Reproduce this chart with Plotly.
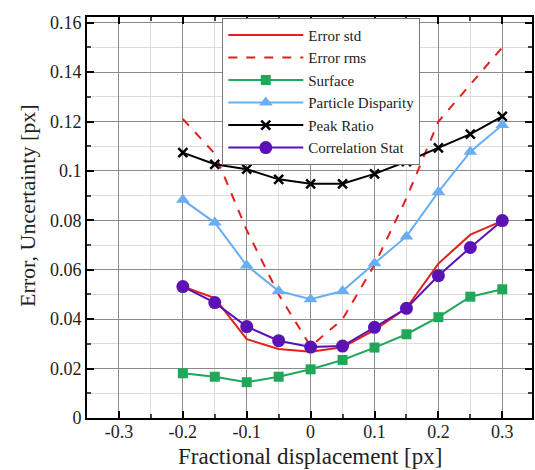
import plotly.graph_objects as go

x = [-0.2, -0.15, -0.1, -0.05, 0, 0.05, 0.1, 0.15, 0.2, 0.25, 0.3]
err_std = [0.0532, 0.0485, 0.0319, 0.0279, 0.0268, 0.0286, 0.0356, 0.0445, 0.0625, 0.0742, 0.0798]
err_rms = [0.121, 0.107, 0.076, 0.050, 0.029, 0.040, 0.062, 0.089, 0.120, 0.135, 0.150]
surface = [0.0181, 0.0167, 0.0145, 0.0167, 0.0197, 0.0235, 0.0285, 0.0339, 0.0408, 0.0491, 0.0521]
particle_disp = [0.0883, 0.0791, 0.0617, 0.0514, 0.0481, 0.0514, 0.0626, 0.0735, 0.0915, 0.1078, 0.1186]
peak_ratio = [0.1074, 0.1027, 0.1007, 0.0966, 0.0948, 0.0948, 0.0988, 0.1038, 0.1093, 0.1149, 0.1221]
corr_stat = [0.0532, 0.0467, 0.0370, 0.0313, 0.0287, 0.0291, 0.0367, 0.0444, 0.0576, 0.0690, 0.0799]

x_ticks = [-0.3, -0.2, -0.1, 0, 0.1, 0.2, 0.3]
x_ticktext = ["-0.3", "-0.2", "-0.1", "0", "0.1", "0.2", "0.3"]
y_ticks = [0, 0.02, 0.04, 0.06, 0.08, 0.1, 0.12, 0.14, 0.16]
y_ticktext = ["0", "0.02", "0.04", "0.06", "0.08", "0.1", "0.12", "0.14", "0.16"]

FONT = "Liberation Serif, Times New Roman, serif"

fig = go.Figure()
fig.add_trace(go.Scatter(x=x, y=err_std, mode="lines", name="Error std",
                         line=dict(color="#E3201C", width=2)))
fig.add_trace(go.Scatter(x=x, y=err_rms, mode="lines", name="Error rms",
                         line=dict(color="#E3201C", width=2, dash="dash")))
fig.add_trace(go.Scatter(x=x, y=surface, mode="lines+markers", name="Surface",
                         line=dict(color="#1FA85A", width=2),
                         marker=dict(symbol="square", size=10, color="#1FA85A")))
fig.add_trace(go.Scatter(x=x, y=particle_disp, mode="lines+markers", name="Particle Disparity",
                         line=dict(color="#6AAEF2", width=2),
                         marker=dict(symbol="triangle-up", size=12, color="#6AAEF2")))
fig.add_trace(go.Scatter(x=x, y=peak_ratio, mode="lines+markers", name="Peak Ratio",
                         line=dict(color="black", width=2),
                         marker=dict(symbol="x-thin", size=9, color="black",
                                     line=dict(color="black", width=2.5))))
fig.add_trace(go.Scatter(x=x, y=corr_stat, mode="lines+markers", name="Correlation Stat",
                         line=dict(color="#5B12B5", width=2),
                         marker=dict(symbol="circle", size=13, color="#5B12B5")))

axis_common = dict(
    showline=True, linecolor="black", linewidth=2, mirror="allticks",
    ticks="inside", ticklen=7, tickwidth=2, tickcolor="black",
    showgrid=True, gridcolor="#8a8a8a", gridwidth=1, zeroline=False,
    tickfont=dict(family=FONT, size=18, color="#222"),
)

fig.update_xaxes(
    range=[-0.35, 0.3465], tickvals=x_ticks, ticktext=x_ticktext,
    ticklabelstandoff=-4,
    minor=dict(dtick=0.05, ticks="inside", ticklen=4, tickcolor="#444", showgrid=True, gridcolor="#dcdcdc"),
    **axis_common,
)
fig.update_yaxes(
    range=[0, 0.1623], tickvals=y_ticks, ticktext=y_ticktext,
    minor=dict(dtick=0.01, ticks="inside", ticklen=4, tickcolor="#444", showgrid=True, gridcolor="#dcdcdc"),
    **axis_common,
)

fig.add_annotation(
    text="Error, Uncertainty [px]", textangle=-90,
    xref="paper", yref="paper", x=-0.135, y=0.531,
    xanchor="center", yanchor="middle", showarrow=False,
    font=dict(family=FONT, size=22, color="#222"),
)
fig.add_annotation(
    text="Fractional displacement [px]",
    xref="paper", yref="paper", x=0.5, y=-0.13,
    xanchor="center", yanchor="bottom", showarrow=False, borderpad=0,
    font=dict(family=FONT, size=23, color="#222"),
)

fig.update_layout(
    width=535, height=470,
    margin=dict(l=87, r=1, t=17, b=52),
    paper_bgcolor="white", plot_bgcolor="white",
    legend=dict(x=0.304, y=0.998, xanchor="left", yanchor="top",
                bgcolor="white", bordercolor="#777", borderwidth=1,
                font=dict(family=FONT, size=15, color="#222"),
                tracegroupgap=0, itemwidth=75),
    showlegend=True,
)

fig.write_html("out.html")
